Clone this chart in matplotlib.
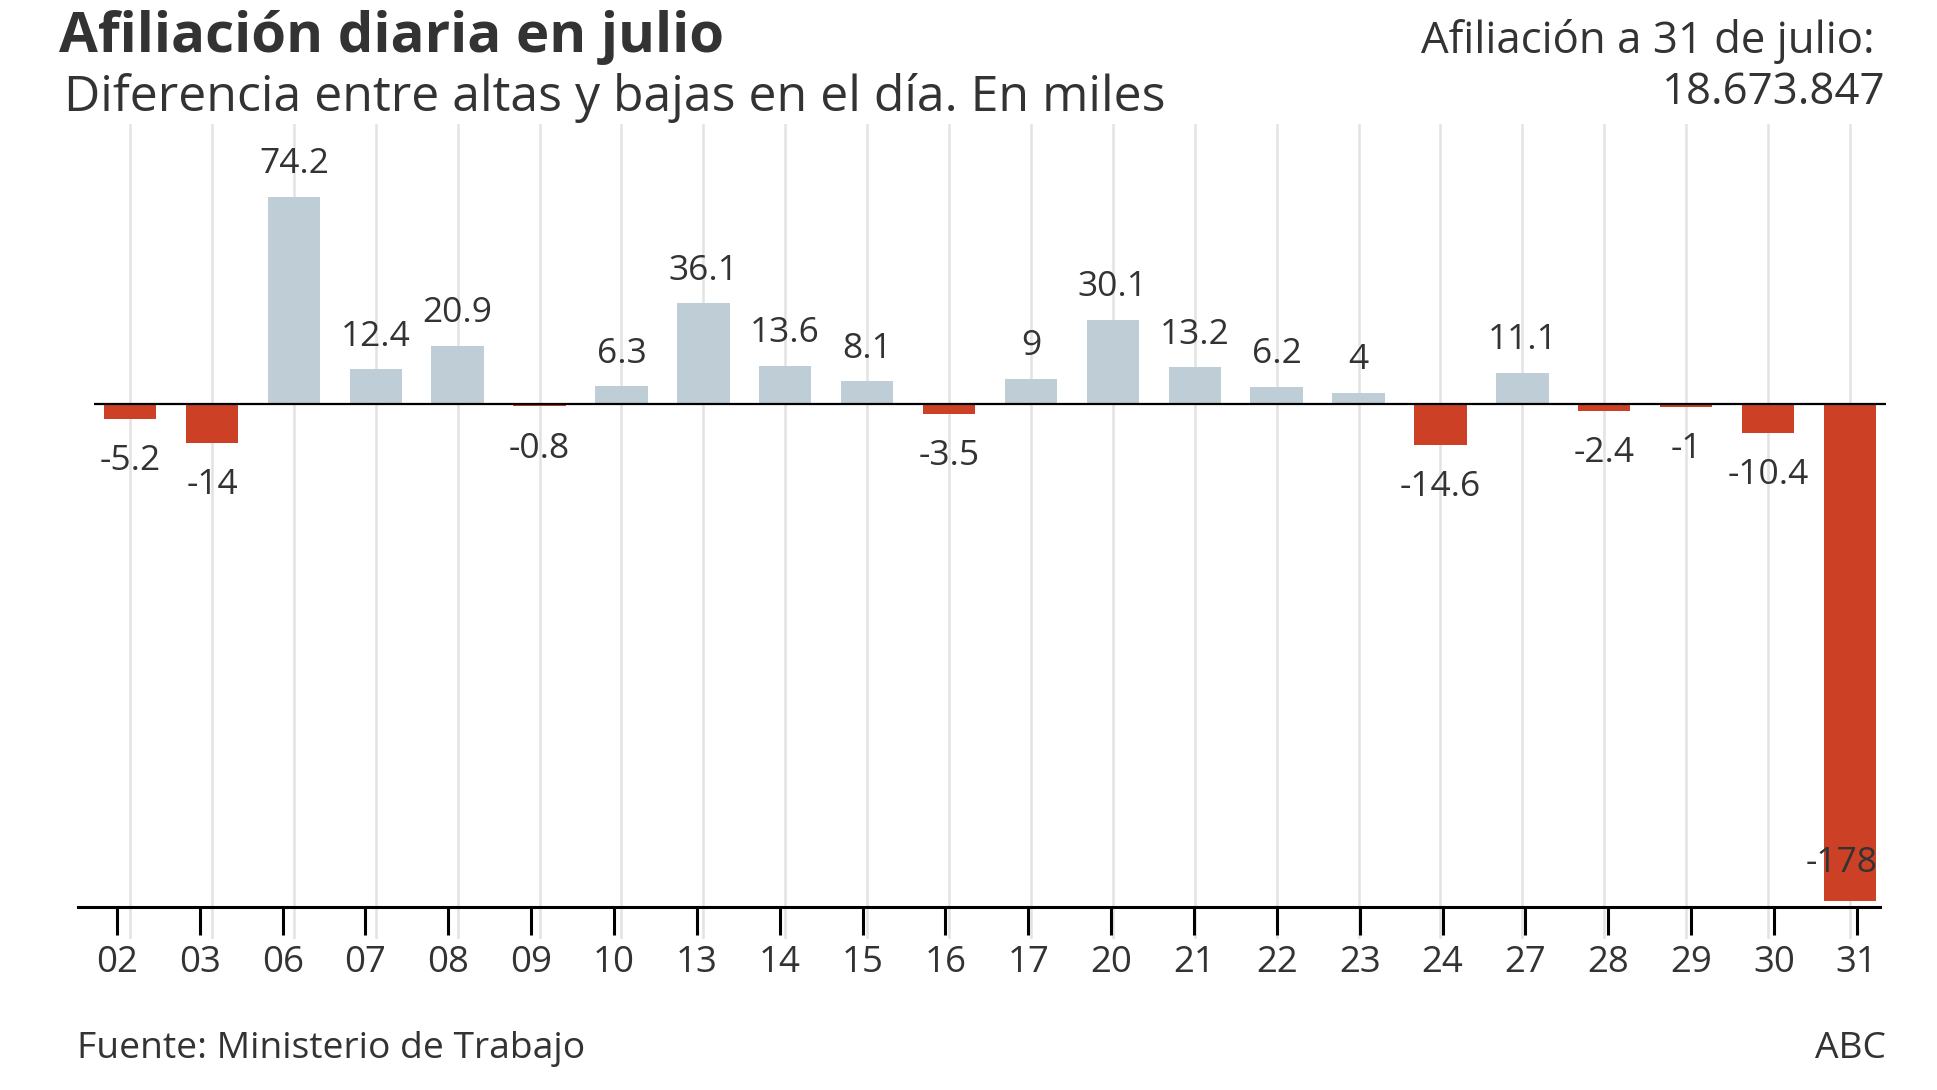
import matplotlib.pyplot as plt

# Data: daily net affiliation in July (thousands)
days = ['02', '03', '06', '07', '08', '09', '10', '13', '14', '15', '16',
        '17', '20', '21', '22', '23', '24', '27', '28', '29', '30', '31']
values = [-5.2, -14, 74.2, 12.4, 20.9, -0.8, 6.3, 36.1, 13.6, 8.1, -3.5,
          9, 30.1, 13.2, 6.2, 4, -14.6, 11.1, -2.4, -1, -10.4, -178]
labels = ['-5.2', '-14', '74.2', '12.4', '20.9', '-0.8', '6.3', '36.1', '13.6',
          '8.1', '-3.5', '9', '30.1', '13.2', '6.2', '4', '-14.6', '11.1',
          '-2.4', '-1', '-10.4', '-178']

plt.rcParams['font.family'] = ['Open Sans', 'DejaVu Sans']
TXT = '#333333'
POS = '#bfcdd6'
NEG = '#cc4125'

W, H = 1937, 1090
fig = plt.figure(figsize=(W / 100, H / 100), dpi=100)

def box(left, top, right, bottom):
    return [left / W, 1 - bottom / H, (right - left) / W, (bottom - top) / H]

# main bar axes
ax = fig.add_axes(box(94, 124, 1886, 939))
x = list(range(len(days)))
colors = [POS if v >= 0 else NEG for v in values]
ax.bar(x, values, width=0.64, color=colors, zorder=2)
ax.set_xlim(-0.44, 21.44)
ax.set_ylim(-191.8, 100.4)
ax.set_xticks(x)
ax.tick_params(axis='x', length=0, labelbottom=False)
ax.set_yticks([])
ax.grid(axis='x', color='#e3e3e3', linewidth=1.8, zorder=0)
ax.axhline(0, color='black', linewidth=1.6, zorder=3)
for s in ax.spines.values():
    s.set_visible(False)

ymin = ax.get_ylim()[0]
for i, (v, lab) in enumerate(zip(values, labels)):
    if v >= 0:
        ax.annotate(lab, (i, v), xytext=(0, 23.5), textcoords='offset points',
                    ha='center', va='center', fontsize=25.5, color=TXT, zorder=4)
    elif v - 25 < ymin:
        # too long: label goes inside the bar, near its end
        ax.annotate(lab, (i + 0.34, v), xytext=(0, 27), textcoords='offset points',
                    ha='right', va='center', fontsize=25.5, color=TXT, zorder=4)
    else:
        ax.annotate(lab, (i, v), xytext=(0, -30.5), textcoords='offset points',
                    ha='center', va='center', fontsize=25.5, color=TXT, zorder=4)

# separate date axis at the bottom
ax2 = fig.add_axes(box(78, 890, 1880, 907))
ax2.set_xlim(-0.47, 21.28)
ax2.set_xticks(x)
ax2.set_xticklabels(days)
ax2.set_yticks([])
ax2.patch.set_alpha(0)
for k in ['top', 'left', 'right']:
    ax2.spines[k].set_visible(False)
ax2.spines['bottom'].set_linewidth(2.2)
ax2.tick_params(axis='x', direction='out', length=20, width=2.2,
                labelsize=26.4, labelcolor=TXT, pad=7)

# titles and notes
fig.text(59 / W, 1 - 52 / H, 'Afiliación diaria en julio', fontsize=40.6,
         fontweight='bold', color=TXT, ha='left', va='baseline')
fig.text(64 / W, 1 - 111 / H, 'Diferencia entre altas y bajas en el día. En miles',
         fontsize=36, color=TXT, ha='left', va='baseline')
fig.text(1875 / W, 1 - 53 / H, 'Afiliación a 31 de julio:', fontsize=31.5,
         color=TXT, ha='right', va='baseline')
fig.text(1886 / W, 1 - 104 / H, '18.673.847', fontsize=31.5,
         color=TXT, ha='right', va='baseline')
fig.text(77 / W, 1 - 1058 / H, 'Fuente: Ministerio de Trabajo', fontsize=26.8,
         color=TXT, ha='left', va='baseline')
fig.text(1886 / W, 1 - 1058 / H, 'ABC', fontsize=26.8,
         color=TXT, ha='right', va='baseline')

fig.savefig('out.png', dpi=100, facecolor='white')
